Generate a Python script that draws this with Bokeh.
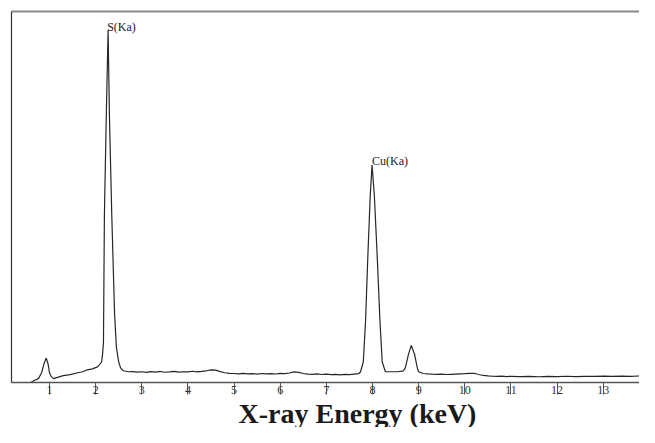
from bokeh.plotting import figure
from bokeh.models import Range1d, LinearAxis, FixedTicker, Label, Title
from bokeh.embed import file_html
from bokeh.resources import INLINE

# X-ray energy (keV) and counts (arbitrary units)
energy = [0.20, 0.59, 0.67, 0.76, 0.83, 0.88, 0.93, 0.97, 1.00, 1.04, 1.09, 1.19, 1.30,
          1.45, 1.61, 1.72, 1.82, 1.93, 2.04, 2.08, 2.13, 2.15, 2.17, 2.19, 2.23, 2.27,
          2.30, 2.35, 2.41, 2.45, 2.50, 2.54, 2.60, 2.71,
          2.8, 2.9, 3.0, 3.1, 3.2, 3.3, 3.4, 3.5, 3.6, 3.7, 3.8, 3.9, 4.0, 4.1, 4.2, 4.3,
          4.4, 4.5, 4.6, 4.7, 4.8, 4.9, 5.0, 5.1, 5.2, 5.3, 5.4, 5.5, 5.6, 5.7, 5.8, 5.9,
          6.0, 6.1, 6.2, 6.3, 6.4, 6.5, 6.6, 6.7, 6.8, 6.9, 7.0, 7.1, 7.2, 7.3, 7.4, 7.5,
          7.6, 7.70, 7.74, 7.80, 7.85, 7.90, 7.95, 7.99, 8.04, 8.10, 8.16, 8.21, 8.28,
          8.39, 8.54, 8.67, 8.71, 8.78, 8.84, 8.91, 8.97, 9.00,
          9.1, 9.2, 9.3, 9.4, 9.5, 9.6, 9.7, 9.8, 9.9, 10.0, 10.1, 10.2, 10.3, 10.4,
          10.5, 10.6, 10.7, 10.8, 10.9, 11.0, 11.2, 11.4, 11.6, 11.8, 12.0, 12.2, 12.4,
          12.6, 12.8, 13.0, 13.2, 13.4, 13.6, 13.8, 14.0, 14.1]
counts = [0, 0, 20, 40, 100, 190, 250, 190, 100, 60, 40, 55, 70,
          80, 100, 110, 130, 140, 160, 180, 210, 290, 410, 1710, 2710, 3610,
          2710, 1710, 710, 360, 210, 150, 120, 110,
          112, 106, 110, 104, 111, 107, 113, 105, 109, 114, 106, 110, 108, 115, 109, 113,
          120, 130, 126, 112, 100, 94, 92, 88, 93, 89, 91, 86, 92, 88, 90, 87,
          93, 90, 97, 108, 104, 92, 86, 84, 88, 82, 85, 80, 84, 79, 83, 81,
          86, 90, 110, 210, 640, 1310, 1910, 2230, 1910, 1310, 640, 210, 110,
          110, 110, 120, 150, 290, 380, 290, 150, 110,
          92, 88, 85, 83, 86, 82, 84, 86, 88, 90, 94, 95, 82, 72,
          67, 64, 62, 65, 61, 63, 60, 62, 59, 63, 61, 64, 60,
          63, 62, 65, 62, 66, 63, 67, 65, 66]

tick_values = [1, 2, 3, 4, 5, 6, 7, 8, 9, 10, 11, 12, 13, 14]

peak_labels = ["S(Ka)", "Cu(Ka)"]
peak_label_x = [2.25, 7.99]
peak_label_y = [3640, 2265]

x_title = "X-ray Energy (keV)"

p = figure(width=639, height=427, output_backend="svg", toolbar_location=None,
           x_range=Range1d(0.177, 13.785), y_range=Range1d(0, 3800),
           min_border_left=11, min_border_top=11, min_border_right=0, min_border_bottom=0)
p.background_fill_color = "white"
p.border_fill_color = "white"
p.outline_line_color = None
p.grid.visible = False

p.line(energy, counts, line_color="#262626", line_width=1.2)

# x axis
xa = p.xaxis[0]
xa.ticker = FixedTicker(ticks=tick_values)
xa.minor_tick_line_color = None
xa.major_tick_in = 0
xa.major_tick_out = 12
xa.major_tick_line_color = "#555555"
xa.axis_line_color = "#555555"
xa.axis_line_width = 1.5
xa.major_label_standoff = -9
xa.major_label_text_align = "left"
xa.major_label_text_font = "Liberation Serif"
xa.major_label_text_font_size = "12px"
xa.major_label_text_color = "#333333"

# y axis: line only
ya = p.yaxis[0]
ya.ticker = FixedTicker(ticks=[])
ya.minor_tick_line_color = None
ya.major_tick_line_color = None
ya.major_label_text_font_size = "0px"
ya.axis_line_color = "#333333"
ya.axis_line_width = 1.2

top = LinearAxis(ticker=FixedTicker(ticks=[]), minor_tick_line_color=None,
                 major_tick_line_color=None, major_label_text_font_size="0px",
                 axis_line_color="#8a8a8a", axis_line_width=2)
p.add_layout(top, "above")

for t, x, y in zip(peak_labels, peak_label_x, peak_label_y):
    p.add_layout(Label(x=x, y=y, text=t, text_font="Liberation Serif",
                       text_font_size="12px", text_color="#222222",
                       text_align="left", text_baseline="alphabetic"))

p.add_layout(Title(text=x_title, text_font="Liberation Serif", text_font_style="bold",
                   text_font_size="28px", text_color="#1a1a1a", align="left",
                   offset=227, standoff=-2), "below")

open("out.html", "w").write(file_html(p, INLINE))
